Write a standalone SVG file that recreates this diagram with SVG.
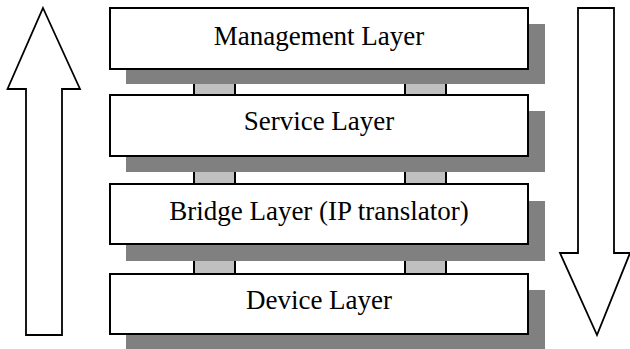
<svg xmlns="http://www.w3.org/2000/svg" width="630" height="349" viewBox="0 0 630 349">
<style>
.shadow{fill:#808080;stroke:none}
.box{fill:#fff;stroke:#000;stroke-width:2}
.link{fill:#c0c0c0;stroke:none}
.linkedge{stroke:#000;stroke-width:2}
.arrow{fill:#fff;stroke:#000;stroke-width:1.8;stroke-linejoin:miter}
.label{font-family:"Liberation Serif","DejaVu Serif",serif;font-size:27px;fill:#000;text-anchor:middle}
</style>
<rect width="630" height="349" fill="#fff"/>
<g id="arrow-up">
<polygon class="arrow" points="43,8 80,89 62,89 62,335 26,335 26,89 7.5,89"/>
</g>
<g id="arrow-down">
<polygon class="arrow" points="578,8 614,8 614,253 630,253 597,335 560,253 578,253"/>
</g>
<g id="connectors">
<rect class="link" x="193" y="84" width="43" height="11"/>
<rect class="link" x="404" y="84" width="43" height="11"/>
<rect class="link" x="193" y="172" width="43" height="12"/>
<rect class="link" x="404" y="172" width="43" height="12"/>
<rect class="link" x="193" y="261" width="43" height="13"/>
<rect class="link" x="404" y="261" width="43" height="13"/>
<path class="linkedge" d="M194,84V95M235,84V95M405,84V95M446,84V95M194,172V184M235,172V184M405,172V184M446,172V184M194,261V274M235,261V274M405,261V274M446,261V274"/>
</g>
<g id="management-layer">
<rect class="shadow" x="126" y="24" width="419" height="60"/>
<rect class="box" x="110" y="8" width="418" height="61"/>
<text class="label" x="319" y="45">Management Layer</text>
</g>
<g id="service-layer">
<rect class="shadow" x="126" y="111" width="419" height="61"/>
<rect class="box" x="110" y="95" width="418" height="61"/>
<text class="label" x="319" y="130">Service Layer</text>
</g>
<g id="bridge-layer">
<rect class="shadow" x="126" y="201" width="419" height="60"/>
<rect class="box" x="110" y="184" width="418" height="60"/>
<text class="label" x="319" y="220">Bridge Layer (IP translator)</text>
</g>
<g id="device-layer">
<rect class="shadow" x="126" y="290" width="419" height="60"/>
<rect class="box" x="110" y="274" width="418" height="60"/>
<text class="label" x="319" y="309">Device Layer</text>
</g>
</svg>
